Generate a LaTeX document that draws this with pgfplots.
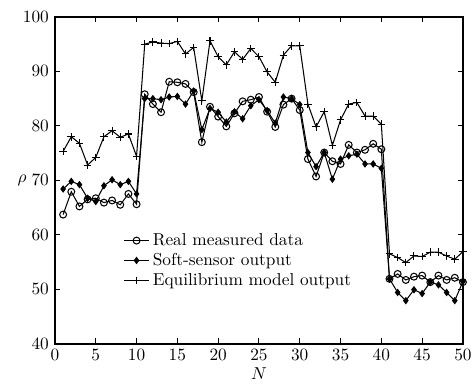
\documentclass[border=0pt]{standalone}
\usepackage{pgfplots}
\pgfplotsset{compat=1.18}
\pgfplotstableread{
N real soft equi
1 63.7 68.4 75.3
2 67.9 69.8 78.0
3 65.2 69.2 76.8
4 66.5 66.7 72.8
5 66.7 66.1 74.2
6 65.9 69.0 78.0
7 66.3 70.1 79.1
8 65.5 69.2 77.9
9 67.5 69.8 78.5
10 65.6 67.5 74.4
11 85.8 85.0 95.0
12 84.0 85.0 95.4
13 82.5 84.8 95.2
14 88.1 85.3 95.1
15 88.0 85.4 95.5
16 87.7 84.0 93.2
17 86.2 86.4 94.4
18 77.0 79.3 84.6
19 83.5 83.2 95.6
20 81.7 82.5 92.7
21 79.9 80.7 91.2
22 82.3 82.6 93.6
23 84.5 81.3 92.2
24 84.8 83.7 94.2
25 85.3 84.8 92.7
26 82.6 82.8 89.9
27 79.8 80.5 88.0
28 83.9 85.3 93.0
29 85.0 85.0 94.7
30 82.9 83.9 94.7
31 73.9 75.1 84.0
32 70.7 72.5 79.8
33 75.1 75.1 82.6
34 73.5 70.2 76.4
35 73.0 73.9 81.1
36 76.5 74.5 84.0
37 75.1 74.8 84.3
38 75.6 73.0 81.8
39 76.7 73.0 81.8
40 75.7 72.2 80.3
41 51.9 51.9 56.5
42 52.8 49.4 55.8
43 51.7 47.9 54.9
44 52.3 49.9 56.1
45 52.5 49.2 56.0
46 51.3 51.3 56.8
47 52.5 50.8 56.8
48 51.7 49.4 56.1
49 52.1 47.9 55.5
50 51.3 51.4 56.9
}\datatable
\begin{document}
\begin{tikzpicture}
\begin{axis}[
  name=ax,
  scale only axis,
  width=236pt, height=189pt,
  xmin=0, xmax=50, ymin=40, ymax=100,
  xtick={0,5,...,50}, ytick={40,50,...,100},
  tick align=inside,
  major tick length=3pt,
  axis line style={line width=1pt},
  every tick/.style={black, line width=0.6pt},
  xlabel={$N$}, ylabel={$\rho$},
  xlabel style={yshift=3pt},
  ylabel style={rotate=-90, xshift=9pt},
  legend style={draw=none, fill=none, at={(0.155,0.36)}, anchor=north west,
    row sep=-1pt, font=\normalsize},
  legend cell align=left,
  legend image code/.code={\draw[mark repeat=2,mark phase=2] plot coordinates {(0cm,0cm) (0.25cm,0cm) (0.5cm,0cm)};},
]
\addplot[black, line width=0.6pt, mark=o, mark size=2pt, mark options={line width=0.6pt}] table[x=N, y=real] {\datatable};
\addlegendentry{Real measured data}
\addplot[black, line width=0.6pt, mark=diamond*, mark size=1.7pt] table[x=N, y=soft] {\datatable};
\addlegendentry{Soft-sensor output}
\addplot[black, line width=0.6pt, mark=+, mark size=2.2pt, mark options={line width=0.6pt}] table[x=N, y=equi] {\datatable};
\addlegendentry{Equilibrium model output}
\end{axis}
\pgfresetboundingbox
\path ([xshift=-31.8pt, yshift=-24.9pt]ax.south west) rectangle ([xshift=6.4pt, yshift=9.8pt]ax.north east);
\end{tikzpicture}
\end{document}
